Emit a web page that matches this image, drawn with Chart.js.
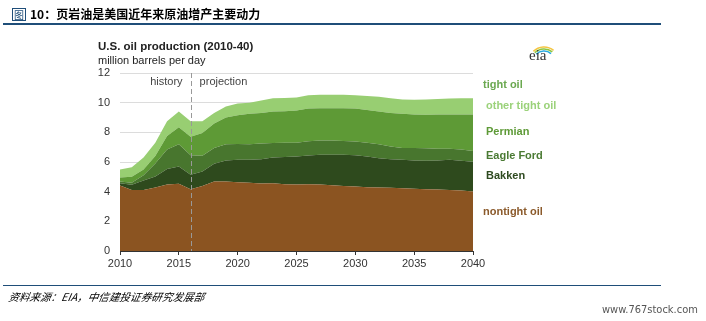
<!DOCTYPE html>
<html><head><meta charset="utf-8">
<script src="https://cdn.jsdelivr.net/npm/chart.js@4"></script>
<style>
html,body{margin:0;padding:0;background:#fff;width:706px;height:321px;overflow:hidden;}
#wrap{position:absolute;left:0;top:0;width:706px;height:321px;}
.hdr{position:absolute;left:12px;top:5px;font-family:"Noto Sans CJK SC";font-weight:bold;font-size:12px;color:#000;white-space:nowrap;}
.hdr .box{display:inline-block;border:1px solid #1F4E79;color:#1F4E79;font-size:10px;line-height:11px;padding:0 1px;margin-right:4px;font-weight:normal;}
.line1{position:absolute;left:3px;top:23px;width:658px;height:2px;background:#1F4E79;}
.line2{position:absolute;left:3px;top:285px;width:658px;height:1px;background:#1F4E79;}
.foot{position:absolute;left:10px;top:289px;font-family:"Noto Sans CJK SC";font-style:italic;font-size:10.6px;color:#000;white-space:nowrap;transform:skewX(-10deg);transform-origin:0 0;}
.wm{position:absolute;left:602px;top:303px;font-family:"DejaVu Sans Condensed","DejaVu Sans";font-size:11px;color:#555;white-space:nowrap;}
.t1{position:absolute;left:98px;top:40px;font-family:"Liberation Sans";font-weight:bold;font-size:11.5px;color:#222;}
.t2{position:absolute;left:98px;top:54px;font-family:"Liberation Sans";font-size:11px;color:#222;}
.eia{position:absolute;left:529px;top:47px;font-family:"Liberation Serif";font-size:15px;color:#333;}
</style></head>
<body>
<div id="wrap"><canvas id="c" width="706" height="321"></canvas></div>
<div class="hdr"><span class="box">图</span>10：页岩油是美国近年来原油增产主要动力</div>
<div class="line1"></div>
<div class="t1">U.S. oil production (2010-40)</div>
<div class="t2">million barrels per day</div>
<div class="eia">eia</div>
<div class="line2"></div>
<div class="foot">资料来源：EIA，中信建投证券研究发展部</div>
<div class="wm">www.767stock.com</div>
<script>
const years = [2010,2011,2012,2013,2014,2015,2016,2017,2018,2019,2020,2021,2022,2023,2024,2025,2026,2027,2028,2029,2030,2031,2032,2033,2034,2035,2036,2037,2038,2039,2040];
const nontight = [4.41,4.12,4.12,4.28,4.48,4.53,4.17,4.39,4.68,4.68,4.64,4.60,4.55,4.57,4.50,4.48,4.50,4.48,4.44,4.39,4.35,4.30,4.28,4.26,4.23,4.19,4.17,4.14,4.12,4.08,4.01];
const bakken = [0.16,0.34,0.63,0.74,1.04,1.17,0.97,0.97,1.20,1.42,1.51,1.55,1.64,1.73,1.83,1.89,1.94,2.01,2.05,2.10,2.11,2.07,1.98,1.93,1.92,1.91,1.91,1.96,2.03,2.00,2.00];
const eagleFord = [0.11,0.14,0.35,0.88,1.33,1.50,1.31,1.06,1.07,1.10,1.07,1.05,1.06,0.98,0.97,0.93,0.96,0.96,0.96,0.93,0.92,0.93,0.94,0.86,0.80,0.85,0.84,0.80,0.75,0.77,0.74];
const permian = [0.27,0.40,0.40,0.50,0.90,1.15,1.25,1.53,1.65,1.80,1.93,2.05,2.05,2.12,2.12,2.18,2.20,2.17,2.17,2.20,2.22,2.20,2.20,2.25,2.30,2.25,2.26,2.30,2.30,2.35,2.45];
const otherTight = [0.55,0.65,0.80,0.90,1.00,1.05,1.05,0.80,0.70,0.75,0.80,0.75,0.85,0.90,0.90,0.87,0.90,0.91,0.91,0.91,0.90,0.95,1.00,1.00,0.97,1.00,1.04,1.05,1.08,1.10,1.10];
const yTicks = [0,2,4,6,8,10,12];
const xTicks = [2010,2015,2020,2025,2030,2035,2040];

const toXY = arr => years.map((y,i)=>({x:y,y:arr[i]}));
const mk = (label, arr, color, fill) => ({label, data: toXY(arr), backgroundColor: color, borderWidth:0, pointRadius:0, fill, tension:0});

const labelsPlugin = {
  id:'labels',
  afterDatasetsDraw(chart){
    const {ctx, chartArea, scales:{x,y}} = chart;
    const xd = x.getPixelForValue(2016);
    ctx.save();
    ctx.strokeStyle = '#999'; ctx.lineWidth = 1; ctx.setLineDash([5,3]);
    ctx.beginPath(); ctx.moveTo(Math.round(xd)+0.5, chartArea.top); ctx.lineTo(Math.round(xd)+0.5, chartArea.bottom); ctx.stroke();
    ctx.setLineDash([]);
    ctx.font = '11px "Liberation Sans"'; ctx.fillStyle = '#444'; ctx.textBaseline='middle';
    ctx.textAlign='right'; ctx.fillText('history', xd-8, 82);
    ctx.textAlign='left'; ctx.fillText('projection', xd+9, 82);
    ctx.font = 'bold 11px "Liberation Sans"';
    const leg = [['tight oil','#6aa84f',483,85],['other tight oil','#9bd27a',486,106],['Permian','#5e9a37',486,132],['Eagle Ford','#4a7a33',486,156],['Bakken','#2e4a20',486,176],['nontight oil','#8b5a2b',483,212]];
    leg.forEach(([t,c,lx,ly])=>{ctx.fillStyle=c; ctx.fillText(t,lx,ly);});
    // eia logo arcs
    ctx.lineWidth = 1.6;
    [['#f4c542',15],['#8cc63f',13],['#29a9e0',11]].forEach(([c,r])=>{
      ctx.strokeStyle=c; ctx.beginPath(); ctx.arc(544, 62, r, Math.PI*1.25, Math.PI*1.72); ctx.stroke();
    });
    ctx.restore();
  }
};

new Chart(document.getElementById('c'), {
  type:'line',
  data:{datasets:[
    mk('nontight oil', nontight, '#8B5421', 'origin'),
    mk('Bakken', bakken, '#2E4A1D', '-1'),
    mk('Eagle Ford', eagleFord, '#48762E', '-1'),
    mk('Permian', permian, '#5E9A36', '-1'),
    mk('other tight oil', otherTight, '#98CE72', '-1')
  ]},
  options:{
    responsive:false, animation:false,
    layout:{padding:{left:0,right:233,top:73,bottom:0}},
    plugins:{legend:{display:false},tooltip:{enabled:false}},
    scales:{
      x:{type:'linear',min:2010,max:2040,
        afterBuildTicks(s){s.ticks = xTicks.map(v=>({value:v}));},
        afterFit(s){s.height=70;},
        grid:{display:true,drawOnChartArea:false,drawTicks:true,tickLength:4,color:'#333'},
        border:{display:true,color:'#333',width:1},
        ticks:{color:'#333',font:{family:'Liberation Sans',size:11},padding:2,maxRotation:0,callback:v=>String(v)}},
      y:{stacked:true,min:0,max:12,
        afterBuildTicks(s){s.ticks = yTicks.map(v=>({value:v}));},
        afterFit(s){s.width=120;},
        grid:{color:'#dcdcdc',drawTicks:false},
        border:{display:false},
        ticks:{color:'#333',font:{family:'Liberation Sans',size:11},padding:10}}
    }
  },
  plugins:[labelsPlugin]
});
</script>
</body></html>
